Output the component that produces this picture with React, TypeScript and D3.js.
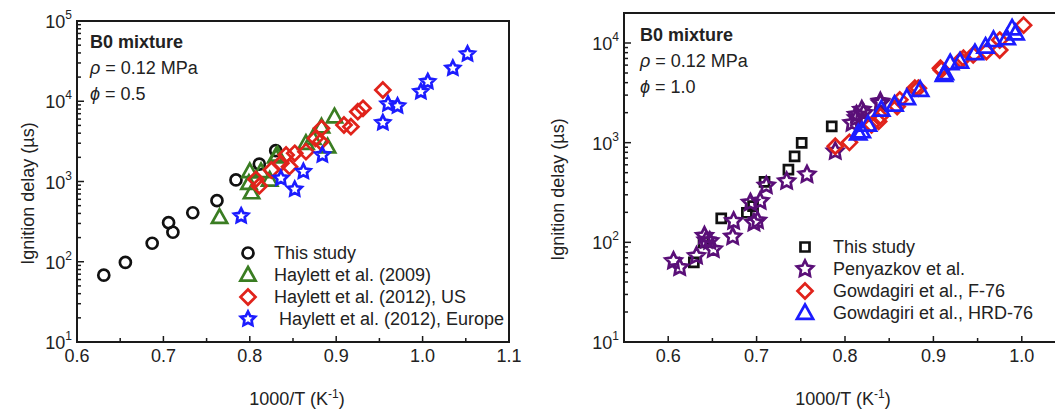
import React from 'react';
import * as d3 from 'd3';

// [1000/T, ignition delay in µs]
const leftThisStudy = [[0.631, 68], [0.656, 98], [0.687, 170], [0.706, 307], [0.711, 233], [0.734, 408], [0.762, 577], [0.784, 1045], [0.811, 1650], [0.830, 2420]];
const leftHaylett2009 = [[0.765, 358], [0.800, 1330], [0.799, 950], [0.802, 726], [0.813, 1330], [0.823, 1045], [0.830, 2030], [0.832, 2140], [0.865, 2990], [0.873, 3450], [0.883, 4800], [0.890, 2715], [0.898, 6420]];
const leftHaylettUS = [[0.807, 1065], [0.811, 880], [0.825, 1390], [0.836, 1690], [0.842, 2140], [0.846, 1530], [0.852, 2245], [0.865, 2355], [0.876, 3450], [0.882, 3130], [0.883, 4600], [0.909, 5060], [0.917, 4820], [0.925, 7410], [0.931, 8170], [0.954, 13800]];
const leftHaylettEU = [[0.790, 372], [0.836, 1095], [0.852, 800], [0.862, 1330], [0.884, 2140], [0.954, 5400], [0.960, 9240], [0.971, 8730], [0.998, 13150], [1.006, 17530], [1.035, 25760], [1.052, 38800]];

const rightThisStudy = [[0.629, 63], [0.640, 100], [0.660, 174], [0.689, 198], [0.696, 231], [0.709, 405], [0.736, 537], [0.743, 730], [0.751, 993], [0.785, 1457]];
const rightPenyazkov = [[0.606, 65], [0.613, 56], [0.632, 73], [0.641, 116], [0.647, 103], [0.651, 85], [0.643, 105], [0.674, 163], [0.673, 114], [0.693, 250], [0.697, 157], [0.701, 165], [0.704, 259], [0.711, 371], [0.734, 410], [0.757, 479], [0.789, 820], [0.808, 1574], [0.813, 1770], [0.813, 1905], [0.821, 1980], [0.819, 2140], [0.840, 2490], [0.840, 2590]];
const rightF76 = [[0.789, 920], [0.805, 1007], [0.830, 1514], [0.838, 1633], [0.840, 1834], [0.859, 2307], [0.862, 2690], [0.879, 3520], [0.883, 3520], [0.908, 5590], [0.909, 5370], [0.931, 6760], [0.934, 7030], [0.945, 7590], [0.960, 8190], [0.975, 8500], [0.975, 10700], [1.002, 15100]];
const rightHRD76 = [[0.815, 1240], [0.819, 1300], [0.826, 1514], [0.841, 2140], [0.856, 2400], [0.870, 2800], [0.885, 3390], [0.912, 4790], [0.913, 4970], [0.919, 6260], [0.930, 6500], [0.947, 7890], [0.959, 9190], [0.968, 10700], [0.983, 11150], [0.989, 14000], [0.993, 12500]];

const leftLegend = ['This study', 'Haylett et al. (2009)', 'Haylett et al. (2012), US', ' Haylett et al. (2012), Europe'];
const rightLegend = ['This study', 'Penyazkov et al.', 'Gowdagiri et al., F-76', 'Gowdagiri et al., HRD-76'];

const FONT = 'Liberation Sans, Arial, sans-serif';

// marker paths centred on 0,0
const starPath = (R: number) => {
  const pts: string[] = [];
  for (let i = 0; i < 10; i++) {
    const r = i % 2 === 0 ? R : R * 0.5;
    const a = -Math.PI / 2 + (i * Math.PI) / 5;
    pts.push(`${(r * Math.cos(a)).toFixed(2)},${(r * Math.sin(a)).toFixed(2)}`);
  }
  return 'M' + pts.join('L') + 'Z';
};
const shapes: Record<string, (s: number) => string> = {
  circle: s => `M${s},0A${s},${s} 0 1,1 ${-s},0A${s},${s} 0 1,1 ${s},0Z`,
  square: s => `M${-s},${-s}H${s}V${s}H${-s}Z`,
  diamond: s => `M0,${-s}L${s},0L0,${s}L${-s},0Z`,
  triangle: s => `M0,${-s}L${s * 0.95},${s * 0.7}L${-s * 0.95},${s * 0.7}Z`,
  star: s => starPath(s),
};

type Series = { data: number[][]; shape: string; size: number; color: string };

type PanelProps = {
  box: { left: number; right: number; top: number; bottom: number };
  xDomain: [number, number];
  yDomain: [number, number];
  series: Series[];
  legend: string[];
  legendPos: { x: number; y: number; tx: number };
  note: { x: number; y: number; phi: string };
  yLabelX: number;
  xLabelX: number;
  closed: boolean;
};

const Panel = ({ box, xDomain, yDomain, series, legend, legendPos, note, yLabelX, xLabelX, closed }: PanelProps) => {
  const x = d3.scaleLinear().domain(xDomain).range([box.left, box.right]);
  const y = d3.scaleLog().domain(yDomain).range([box.bottom, box.top]);
  const xTicks = x.ticks(10);
  const yTicks = y.ticks().filter(t => t >= yDomain[0] && t <= yDomain[1]);
  const isMajorX = (t: number) => Math.abs(t * 10 - Math.round(t * 10)) < 1e-6;
  const isMajorY = (t: number) => Math.abs(Math.log10(t) - Math.round(Math.log10(t))) < 1e-6;
  const stroke = '#1a1a1a';

  return (
    <g>
      {/* frame */}
      {closed ? (
        <rect x={box.left} y={box.top} width={box.right - box.left} height={box.bottom - box.top} fill="none" stroke={stroke} strokeWidth={2} />
      ) : (
        <path d={`M${box.right},${box.top}H${box.left}V${box.bottom}H${box.right}`} fill="none" stroke={stroke} strokeWidth={2} />
      )}
      {/* x ticks */}
      {xTicks.map(t => {
        const major = isMajorX(t);
        const px = x(t);
        return (
          <g key={'x' + t}>
            {px > box.left + 1 && px < box.right - 1 && (
              <line x1={px} x2={px} y1={box.bottom} y2={box.bottom - (major ? 6 : 4)} stroke={stroke} strokeWidth={1.5} />
            )}
            {major && (
              <text x={px} y={362} textAnchor="middle" fontSize={18} fontFamily={FONT} fill="#222">
                {t.toFixed(1)}
              </text>
            )}
          </g>
        );
      })}
      {/* y ticks */}
      {yTicks.map(t => {
        const major = isMajorY(t);
        const py = y(t);
        return (
          <g key={'y' + t}>
            {py < box.bottom - 1 && py > box.top + 1 && (
              <line x1={box.left} x2={box.left + (major ? 7 : 4)} y1={py} y2={py} stroke={stroke} strokeWidth={1.5} />
            )}
            {major && (
              <text x={box.left - 5} y={py + 7} textAnchor="end" fontSize={18} fontFamily={FONT} fill="#222">
                10
                <tspan dy={-9} fontSize={12}>{Math.round(Math.log10(t))}</tspan>
              </text>
            )}
          </g>
        );
      })}
      {/* axis titles */}
      <text transform={`translate(${yLabelX},${(box.top + box.bottom) / 2 + 12}) rotate(-90)`} textAnchor="middle" fontSize={18} fontFamily={FONT} fill="#222">
        Ignition delay (µs)
      </text>
      <text x={xLabelX} y={405} textAnchor="middle" fontSize={18} fontFamily={FONT} fill="#222">
        1000/T (K<tspan dy={-7} fontSize={12}>-1</tspan><tspan dy={7}>)</tspan>
      </text>
      {/* annotation */}
      <text x={note.x} y={note.y} fontSize={18} fontWeight="bold" fontFamily={FONT} fill="#222">B0 mixture</text>
      <text x={note.x} y={note.y + 26} fontSize={18} fontFamily={FONT} fill="#222">
        <tspan fontStyle="italic">ρ</tspan> = 0.12 MPa
      </text>
      <text x={note.x} y={note.y + 52} fontSize={18} fontFamily={FONT} fill="#222">
        <tspan fontStyle="italic">ϕ</tspan> = {note.phi}
      </text>
      {/* data */}
      {series.map((s, i) => (
        <g key={'s' + i}>
          {s.data.map((d, j) => (
            <path key={j} d={shapes[s.shape](s.size)} transform={`translate(${x(d[0])},${y(d[1])})`} fill="none" stroke={s.color} strokeWidth={2.7} />
          ))}
        </g>
      ))}
      {/* legend */}
      {legend.map((name, i) => {
        const s = series[i];
        const cy = legendPos.y + i * 22;
        return (
          <g key={'l' + i}>
            <path d={shapes[s.shape](s.size)} transform={`translate(${legendPos.x},${cy})`} fill="none" stroke={s.color} strokeWidth={2.7} />
            <text x={legendPos.tx} y={cy + 6} fontSize={18} fontFamily={FONT} fill="#222" style={{ whiteSpace: 'pre' }}>
              {name}
            </text>
          </g>
        );
      })}
    </g>
  );
};

export default function App() {
  const green = '#3a7d22';
  const red = '#e0231b';
  const blue = '#1c1cff';
  const purple = '#5a0f78';
  return (
    <svg width={1055} height={410} style={{ position: 'absolute', left: 0, top: 0, background: '#fff' }}>
      <Panel
        box={{ left: 77, right: 509, top: 21, bottom: 342 }}
        xDomain={[0.6, 1.1]}
        yDomain={[10, 1e5]}
        series={[
          { data: leftThisStudy, shape: 'circle', size: 5.5, color: '#111' },
          { data: leftHaylett2009, shape: 'triangle', size: 8, color: green },
          { data: leftHaylettUS, shape: 'diamond', size: 7.5, color: red },
          { data: leftHaylettEU, shape: 'star', size: 7.5, color: blue },
        ]}
        legend={leftLegend}
        legendPos={{ x: 248, y: 253, tx: 274 }}
        note={{ x: 90, y: 48, phi: '0.5' }}
        yLabelX={34}
        xLabelX={297}
        closed={true}
      />
      <Panel
        box={{ left: 624, right: 1066, top: 13, bottom: 342 }}
        xDomain={[0.55, 1.05]}
        yDomain={[10, 2e4]}
        series={[
          { data: rightThisStudy, shape: 'square', size: 4.5, color: '#111' },
          { data: rightPenyazkov, shape: 'star', size: 8.5, color: purple },
          { data: rightF76, shape: 'diamond', size: 7.5, color: red },
          { data: rightHRD76, shape: 'triangle', size: 8.5, color: blue },
        ]}
        legend={rightLegend}
        legendPos={{ x: 805, y: 247, tx: 833 }}
        note={{ x: 640, y: 41, phi: '1.0' }}
        yLabelX={564}
        xLabelX={843}
        closed={false}
      />
    </svg>
  );
}
